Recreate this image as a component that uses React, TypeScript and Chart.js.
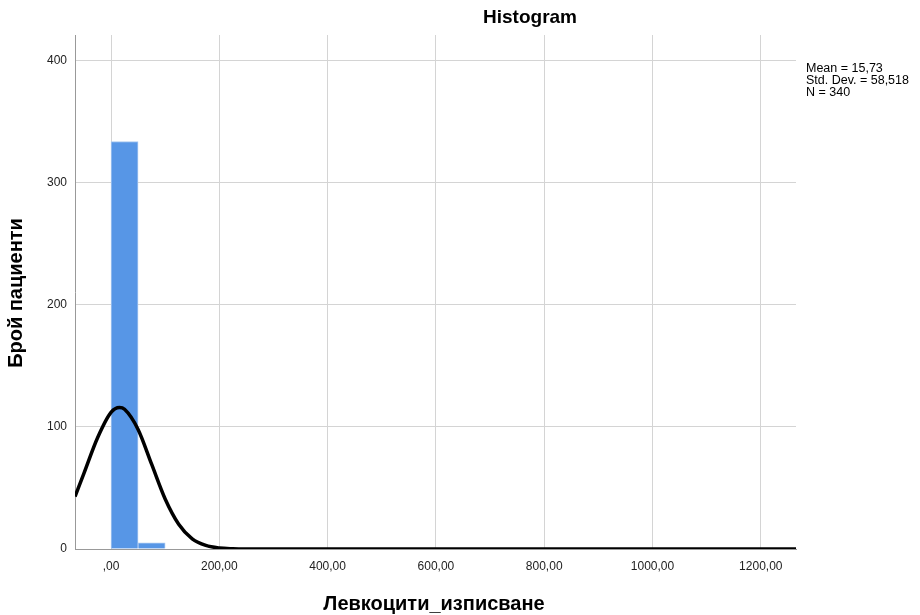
import React, { useEffect, useRef } from "react";
import { Chart, registerables } from "chart.js";

Chart.register(...registerables);

// Histogram bins (centre of bin, count); bin width 50
const binCenters = [25, 75];
const binCounts = [334, 5];

// Fitted normal curve (x, y)
const curveX = [-66.5, -50, -25, 0, 15.7, 25, 50, 75, 100, 125, 150, 175, 200, 225, 250, 300, 400, 600, 800, 1000, 1200, 1265];
const curveY = [43, 62, 91, 112, 116, 114.5, 98, 69.5, 41, 20.3, 8.3, 2.9, 0.8, 0.2, 0.03, 0, 0, 0, 0, 0, 0, 0];

const xTicks = [0, 200, 400, 600, 800, 1000, 1200];
const yTicks = [0, 100, 200, 300, 400];

const titleText = "Histogram";
const xTitle = "Левкоцити_изписване";
const yTitle = "Брой пациенти";
const statsLines = ["Mean = 15,73", "Std. Dev. = 58,518", "N = 340"];

const FONT = 'Arial, "Liberation Sans", sans-serif';

const textPlugin = {
  id: "texts",
  afterDraw(chart: any) {
    const ctx = chart.ctx;
    ctx.save();
    ctx.fillStyle = "#000";
    ctx.textBaseline = "middle";
    ctx.textAlign = "center";
    ctx.font = `bold 19px ${FONT}`;
    ctx.fillText(titleText, 530, 18);
    ctx.font = `bold 20px ${FONT}`;
    ctx.fillText(xTitle, 434, 604);
    ctx.save();
    ctx.translate(16, 293);
    ctx.rotate(-Math.PI / 2);
    ctx.fillText(yTitle, 0, 0);
    ctx.restore();
    ctx.textAlign = "left";
    ctx.font = `12.5px ${FONT}`;
    statsLines.forEach((l, i) => ctx.fillText(l, 806, 69 + i * 12));
    ctx.restore();
  },
};

export default function App() {
  const ref = useRef<HTMLCanvasElement>(null);
  useEffect(() => {
    if (!ref.current) return;
    const chart = new Chart(ref.current, {
      type: "bar",
      data: {
        datasets: [
          {
            type: "line",
            data: curveX.map((x, i) => ({ x, y: curveY[i] })),
            borderColor: "#000",
            borderWidth: 3.5,
            pointRadius: 0,
            cubicInterpolationMode: "monotone",
            fill: false,
            order: 0,
          } as any,
          {
            type: "bar",
            data: binCenters.map((x, i) => ({ x, y: binCounts[i] })),
            backgroundColor: "#5796e6",
            borderColor: "#a9c8f0",
            borderWidth: 1,
            barPercentage: 1,
            categoryPercentage: 1,
            order: 1,
          } as any,
        ],
      },
      options: {
        animation: false,
        responsive: false,
        layout: { padding: { left: 0, right: 124, top: 35, bottom: 0 } },
        plugins: { legend: { display: false }, tooltip: { enabled: false }, title: { display: false } },
        scales: {
          x: {
            type: "linear",
            min: -66.5,
            max: 1265,
            offset: false,
            afterBuildTicks: (s: any) => { s.ticks = xTicks.map((v) => ({ value: v })); },
            afterFit: (s: any) => { s.height = 66; },
            grid: { color: "#d4d4d4", lineWidth: 1, drawTicks: false, offset: false },
            border: { color: "#999", width: 1 },
            ticks: {
              padding: 10,
              color: "#222",
              font: { family: FONT, size: 12 },
              maxRotation: 0,
              callback: (v: any) => (v === 0 ? ",00" : `${v},00`),
            },
          },
          y: {
            type: "linear",
            min: 0,
            max: 421.3,
            afterBuildTicks: (s: any) => { s.ticks = yTicks.map((v) => ({ value: v })); },
            afterFit: (s: any) => { s.width = 75; },
            grid: { color: "#d4d4d4", lineWidth: 1, drawTicks: false },
            border: { color: "#999", width: 1 },
            ticks: { padding: 8, color: "#222", font: { family: FONT, size: 12 } },
          },
        },
      },
      plugins: [textPlugin],
    });
    return () => chart.destroy();
  }, []);
  return (
    <div style={{ position: "fixed", left: 0, top: 0, width: 920, height: 615, background: "#fff" }}>
      <canvas ref={ref} width={920} height={615} style={{ display: "block" }} />
    </div>
  );
}
